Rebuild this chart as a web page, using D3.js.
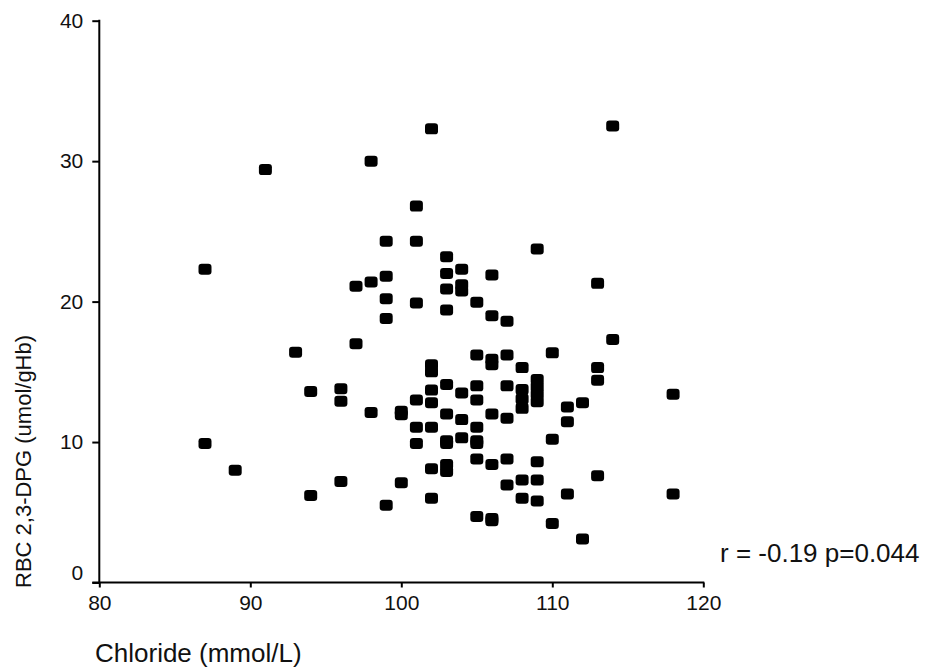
<!DOCTYPE html>
<html>
<head>
<meta charset="utf-8">
<script src="https://cdn.jsdelivr.net/npm/d3@7"></script>
<style>
  html, body { margin: 0; padding: 0; background: #fff; }
  svg { display: block; font-family: "Liberation Sans", Arial, Helvetica, sans-serif; }
</style>
</head>
<body>
<svg id="chart" width="928" height="672"></svg>
<script>
// Chloride (mmol/L) for each subject
const chloride = [
  87, 87,
  89,
  91,
  93,
  94, 94,
  96, 96, 96,
  97, 97,
  98, 98, 98,
  99, 99, 99, 99, 99,
  100, 100, 100,
  101, 101, 101, 101, 101, 101,
  102, 102, 102, 102, 102, 102, 102, 102,
  103, 103, 103, 103, 103, 103, 103, 103, 103, 103,
  104, 104, 104, 104, 104, 104,
  105, 105, 105, 105, 105, 105, 105, 105, 105,
  106, 106, 106, 106, 106, 106, 106, 106,
  107, 107, 107, 107, 107, 107,
  108, 108, 108, 108, 108, 108,
  109, 109, 109, 109, 109, 109, 109, 109,
  110, 110, 110,
  111, 111, 111,
  112, 112,
  113, 113, 113, 113,
  114, 114,
  118, 118
];

// RBC 2,3-DPG (umol/gHb), same order as chloride
const dpg = [
  22.3, 9.9,
  8.0,
  29.4,
  16.4,
  13.6, 6.2,
  13.8, 12.9, 7.2,
  21.1, 17.0,
  30.0, 21.4, 12.1,
  24.3, 21.8, 20.2, 18.8, 5.5,
  12.2, 11.95, 7.1,
  26.8, 24.3, 19.9, 13.0, 11.05, 9.9,
  32.3, 15.5, 15.0, 13.7, 12.8, 11.05, 8.1, 6.0,
  23.2, 22.0, 20.9, 19.4, 14.1, 12.0, 10.1, 9.9, 8.4, 7.9,
  22.3, 21.2, 20.75, 13.5, 11.6, 10.3,
  19.95, 16.2, 14.0, 13.0, 11.05, 10.1, 9.9, 8.8, 4.7,
  21.9, 19.0, 15.9, 15.5, 12.0, 8.4, 4.55, 4.4,
  18.6, 16.2, 14.0, 11.7, 8.8, 6.95,
  15.3, 13.75, 13.07, 12.4, 7.3, 6.0,
  23.75, 14.46, 13.93, 13.4, 12.87, 8.6, 7.3, 5.8,
  16.35, 10.2, 4.2,
  12.5, 11.45, 6.3,
  12.8, 3.1,
  21.3, 15.3, 14.4, 7.6,
  32.5, 17.3,
  13.4, 6.3
];

const xTicks = [80, 90, 100, 110, 120];
const yTicks = [0, 10, 20, 30, 40];

const xTitle = "Chloride (mmol/L)";
const yTitle = "RBC 2,3-DPG (umol/gHb)";
const statText = "r = -0.19 p=0.044";

const svg = d3.select("#chart");

const x = d3.scaleLinear().domain([80, 120]).range([99.3, 703.3]);
const y = d3.scaleLinear().domain([0, 40]).range([582.5, 20.7]);

// y axis
const yAxis = svg.append("g")
  .attr("transform", `translate(${x(80)},0)`)
  .call(d3.axisLeft(y).tickValues(yTicks).tickSize(7).tickPadding(9).tickFormat(d3.format("d")));
yAxis.select(".domain").remove();
yAxis.selectAll(".tick line").attr("stroke", "#000").attr("stroke-width", 2);
yAxis.selectAll(".tick text")
  .attr("fill", "#111")
  .style("font-size", "21px")
  .attr("transform", d => d === 0 ? "translate(0,-10)" : null);

// x axis
const xAxis = svg.append("g")
  .attr("transform", `translate(0,${y(0)})`)
  .call(d3.axisBottom(x).tickValues(xTicks).tickSize(5).tickPadding(8).tickFormat(d3.format("d")));
xAxis.select(".domain").remove();
xAxis.selectAll(".tick line").attr("stroke", "#000").attr("stroke-width", 2);
xAxis.selectAll(".tick text").attr("fill", "#111").style("font-size", "21px");

// axis lines
svg.append("line")
  .attr("x1", x(80)).attr("x2", x(80))
  .attr("y1", y(40) - 1).attr("y2", y(0))
  .attr("stroke", "#000").attr("stroke-width", 2);
svg.append("line")
  .attr("x1", x(80) - 7).attr("x2", x(120) + 1)
  .attr("y1", y(0)).attr("y2", y(0))
  .attr("stroke", "#000").attr("stroke-width", 2);

// data points: rounded squares
const mw = 13, mh = 11;
svg.append("g")
  .selectAll("rect")
  .data(d3.range(chloride.length))
  .join("rect")
  .attr("x", i => x(chloride[i]) - mw / 2)
  .attr("y", i => y(dpg[i]) - mh / 2)
  .attr("width", mw)
  .attr("height", mh)
  .attr("rx", 3.2)
  .attr("ry", 3.2)
  .attr("fill", "#000");

// titles
svg.append("text")
  .attr("x", 95).attr("y", 662)
  .style("font-size", "26px")
  .attr("fill", "#111")
  .text(xTitle);

svg.append("text")
  .attr("transform", "translate(31,588) rotate(-90)")
  .style("font-size", "22px")
  .attr("fill", "#111")
  .text(yTitle);

svg.append("text")
  .attr("x", 720).attr("y", 562)
  .style("font-size", "26px")
  .attr("fill", "#111")
  .text(statText);
</script>
</body>
</html>
